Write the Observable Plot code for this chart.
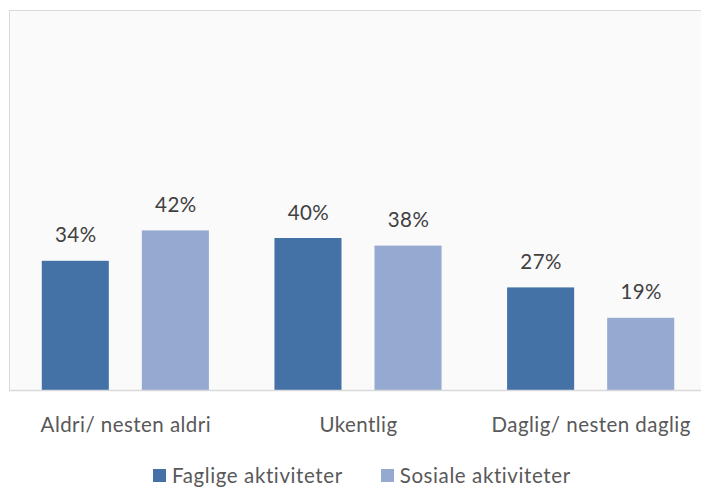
<!DOCTYPE html>
<html>
<head>
<meta charset="utf-8">
<script src="https://cdn.jsdelivr.net/npm/d3@7"></script>
<script src="https://cdn.jsdelivr.net/npm/@observablehq/plot@0.6"></script>
<style>
  html, body { margin: 0; padding: 0; background: #fff; overflow: hidden; }
  #chart { width: 701px; overflow: hidden; }
  #chart svg { display: block; max-width: none !important; }
  .legend { display: flex; align-items: center; margin-left: 153px; height: 30px;
            font-family: Lato, "Open Sans", sans-serif; font-size: 20.5px; letter-spacing: 0.6px; color: #595959; }
  .legend .item { display: flex; align-items: center; margin-right: 38px; }
  .legend .sw { width: 13px; height: 13px; margin-right: 6px; }
</style>
</head>
<body>
<div id="chart"></div>
<div class="legend" id="legend"></div>
<script>
const categories = ["Aldri/ nesten aldri", "Ukentlig", "Daglig/ nesten daglig"];
const seriesNames = ["Faglige aktiviteter", "Sosiale aktiviteter"];
const faglige = [34, 40, 27];
const sosiale = [42, 38, 19];
const colors = ["#4472a7", "#95a9d1"];

const data = [];
categories.forEach((c, i) => {
  data.push({group: c, series: seriesNames[0], value: faglige[i]});
  data.push({group: c, series: seriesNames[1], value: sosiale[i]});
});

const font = "Lato, 'Open Sans', sans-serif";
const plot = Plot.plot({
  width: 760,
  height: 460,
  marginTop: 10,
  marginBottom: 70,
  marginLeft: 9,
  marginRight: 53,
  style: {fontFamily: font, fontSize: "20.5px", letterSpacing: "0.45px", color: "#595959", background: "transparent", maxWidth: "none"},
  fx: {domain: categories, padding: 0, round: false, label: null, axis: "bottom", tickSize: 0, tickPadding: 27},
  x: {domain: seriesNames, axis: null, round: false, paddingInner: 0.33, paddingOuter: 0.3275},
  y: {domain: [0, 100], axis: null},
  color: {domain: seriesNames, range: colors},
  marks: [
    Plot.frame({fill: "#fafafa", stroke: "#d9d9d9", facet: "super"}),
    Plot.barY(data, {fx: "group", x: "series", y: "value", fill: "series"}),
    Plot.ruleY([0], {stroke: "#d9d9d9", strokeWidth: 1.5}),
    Plot.text(data, {fx: "group", x: "series", y: "value", text: d => d.value + "%",
      lineAnchor: "bottom", dy: -19, fill: "#404040", fontSize: 20.5})
  ]
});
document.getElementById("chart").appendChild(plot);

const legend = document.getElementById("legend");
seriesNames.forEach((s, i) => {
  const item = document.createElement("div");
  item.className = "item";
  const sw = document.createElement("div");
  sw.className = "sw";
  sw.style.background = colors[i];
  const t = document.createElement("span");
  t.textContent = s;
  item.appendChild(sw);
  item.appendChild(t);
  legend.appendChild(item);
});
</script>
</body>
</html>
